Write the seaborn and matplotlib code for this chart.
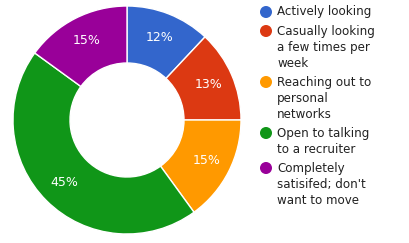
import matplotlib
matplotlib.use("Agg")
import matplotlib.pyplot as plt
import seaborn as sns

categories = ["Actively looking", "Casually looking a few times per week",
              "Reaching out to personal networks", "Open to talking to a recruiter",
              "Completely satisifed; don't want to move"]
legend_lines = [["Actively looking"],
                ["Casually looking", "a few times per", "week"],
                ["Reaching out to", "personal", "networks"],
                ["Open to talking", "to a recruiter"],
                ["Completely", "satisifed; don't", "want to move"]]
values = [12, 13, 15, 45, 15]
colors = ["#3366cc", "#dc3912", "#ff9900", "#109618", "#990099"]

sns.set_theme(style="white")
plt.rcParams['font.family'] = ['DejaVu Sans']
palette = sns.color_palette(colors)

W, H = 409, 243
fig = plt.figure(figsize=(W / 100, H / 100), dpi=100)

# Pie axes: centre (127,120), radius 114 px
cx, cy, r = 127, 120, 114
ax = fig.add_axes([(cx - r) / W, (H - cy - r) / H, 2 * r / W, 2 * r / H])
wedges, texts, autotexts = ax.pie(
    values, colors=palette, startangle=90, counterclock=False,
    autopct=lambda p: f"{p:.0f}%", pctdistance=0.78,
    wedgeprops=dict(width=0.5, edgecolor="white", linewidth=1),
    textprops=dict(color="white", fontsize=9))
ax.set_xlim(-1, 1)
ax.set_ylim(-1, 1)
ax.set_aspect("equal")
ax.axis("off")

# Legend overlay in pixel coordinates
lax = fig.add_axes([0, 0, 1, 1])
lax.set_xlim(0, W)
lax.set_ylim(H, 0)
lax.axis("off")
y = 12
line_h = 16
for lines, col in zip(legend_lines, palette):
    lax.scatter([266], [y], s=75, color=col, edgecolor="none")
    for i, t in enumerate(lines):
        lax.text(277, y + i * line_h, t, va="center", ha="left",
                 fontsize=8.6, color="#222222")
    y += len(lines) * line_h + 3

fig.savefig("out.png", dpi=100)
